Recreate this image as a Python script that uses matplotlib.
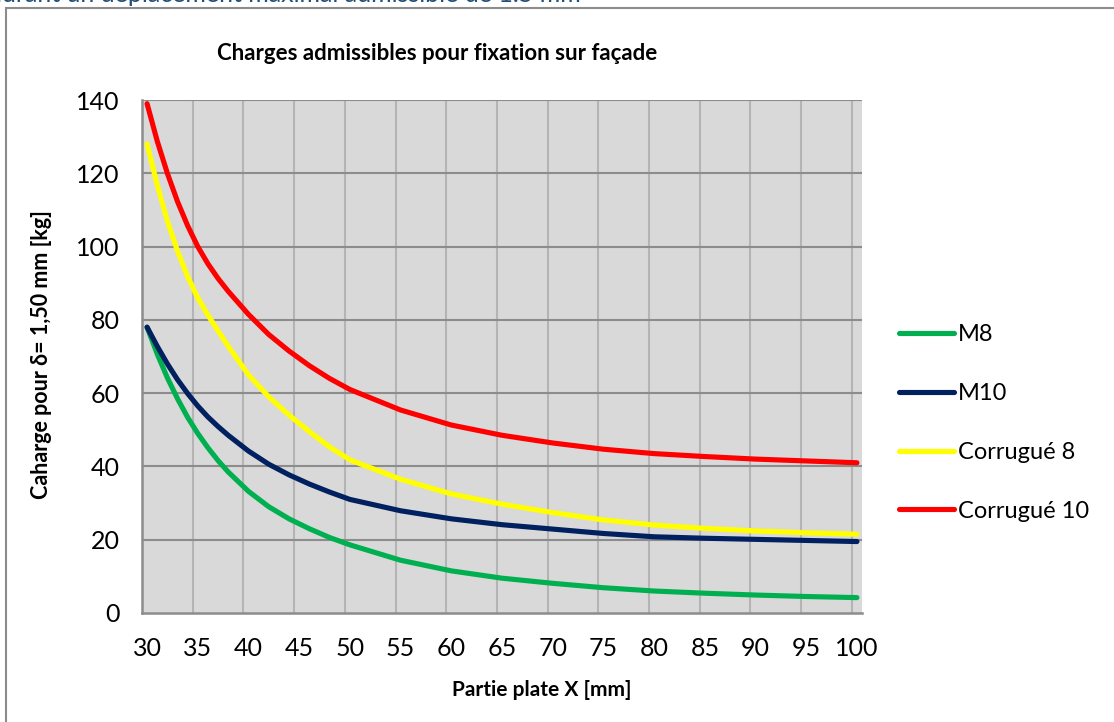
# -*- coding: utf-8 -*-
"""
Charges admissibles pour fixation sur facade
"""
import numpy as np
import matplotlib.pyplot as plt
from matplotlib.patches import Rectangle

#====================================================
#                    Data
#====================================================
x_mm = [30, 31, 32, 33, 34, 35, 36, 37, 38, 40, 42, 44, 46, 48, 50,
        55, 60, 65, 70, 75, 80, 85, 90, 95, 100]

m8 = [78, 70.7, 64.2, 58.5, 53.4, 49, 45.1, 41.6, 38.5, 33.2, 29, 25.7, 23, 20.6, 18.6,
      14.4, 11.5, 9.5, 8.1, 6.9, 6.0, 5.4, 4.9, 4.5, 4.2]
m10 = [78, 72.8, 68, 63.7, 59.9, 56.5, 53.5, 50.9, 48.5, 44.2, 40.6, 37.7, 35.2, 33, 31,
       27.9, 25.7, 24.1, 22.9, 21.7, 20.8, 20.4, 20.1, 19.8, 19.5]
corr8 = [128, 116.8, 107, 98.8, 91.8, 86, 81.3, 77, 72.8, 65, 59, 54, 49.5, 45.3, 41.8,
         36.5, 32.5, 29.7, 27.4, 25.4, 24.0, 23.1, 22.4, 21.9, 21.5]
corr10 = [139, 128.8, 120, 112.3, 105.7, 100, 95.3, 91.3, 87.8, 81.5, 76, 71.5, 67.5, 64, 61,
          55.4, 51.3, 48.5, 46.4, 44.7, 43.5, 42.7, 42.0, 41.5, 41.0]

series = [('M8', m8, '#00b050'),
          ('M10', m10, '#002060'),
          ('Corrugué 8', corr8, '#ffff00'),
          ('Corrugué 10', corr10, '#ff0000')]

x_ticks = list(range(30, 101, 5))
y_ticks = list(range(0, 141, 20))

#====================================================
#                    Plotting
#====================================================
plt.rcParams['font.family'] = ['Lato', 'DejaVu Sans']

fig = plt.figure(figsize=(11.14, 7.22), dpi=100)
W, H = 1114., 722.

# outer chart border
fig.patches.append(Rectangle((6/W, -0.05), 1.1, 1 - 8/H + 0.05, transform=fig.transFigure,
                             fill=False, edgecolor='#8c8c8c', lw=1.5))
# document text above the chart (cut by the top edge, as in the original page)
fig.text(-12/W, 1 - 1.5/H, 'durant un déplacement maximal admissible de 1.5 mm',
         color='#1f4e79', fontsize=18, va='baseline', ha='left')

ax = fig.add_axes([142/W, 1 - 613/H, 720/W, 513/H])
ax.set_facecolor('#d9d9d9')

for name, vals, col in series:
    ax.plot(x_mm, vals, color=col, lw=3.7, solid_capstyle='round',
            solid_joinstyle='round', label=name, clip_on=False)

ax.set_xlim(29.5, 100.5)
ax.set_ylim(0, 140)

# vertical grid between categories, horizontal grid on values
for xv in np.arange(34.5, 100, 5):
    ax.axvline(xv, color='#b4b4b4', lw=1.5, zorder=0.5)
for yv in y_ticks[1:]:
    ax.axhline(yv, color='#8c8c8c', lw=1.5, zorder=0.5)

ax.set_xticks(x_ticks)
ax.set_yticks(y_ticks)
ax.tick_params(length=0, labelsize=18, labelcolor='black')
ax.tick_params(axis='y', pad=16)
ax.tick_params(axis='x', pad=17)

for s in ['top', 'right']:
    ax.spines[s].set_visible(False)
for s in ['left', 'bottom']:
    ax.spines[s].set_color('#8c8c8c')
    ax.spines[s].set_linewidth(1.8)

fig.text(437/W, 1 - 53/H, 'Charges admissibles pour fixation sur façade',
         fontsize=16, fontweight='bold', ha='center', va='center')
fig.text(542/W, 1 - 690/H, 'Partie plate X [mm]',
         fontsize=15, fontweight='bold', ha='center', va='center')
fig.text(42/W, 1 - 355/H, 'Caharge pour δ= 1,50 mm [kg]',
         fontsize=15.5, fontweight='bold', ha='center', va='center', rotation=90)

fig.legend(loc='upper left', bbox_to_anchor=(878/W, 1 - 303/H), frameon=False,
           fontsize=17, handlelength=2.3, handletextpad=0.2, labelspacing=1.6)

plt.savefig('out.png', dpi=100)
